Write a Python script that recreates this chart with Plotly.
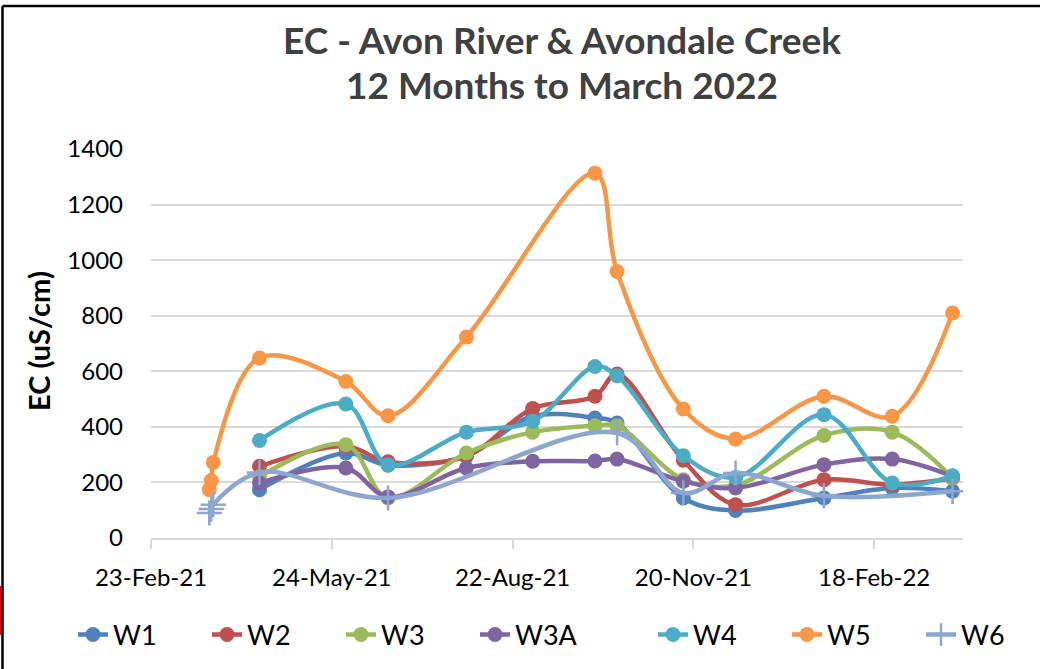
import plotly.graph_objects as go

# ---- data ----
W1_dates = ["2021-04-18", "2021-05-31", "2021-06-21", "2021-07-30", "2021-09-01", "2021-10-02",
            "2021-10-13", "2021-11-15", "2021-12-11", "2022-01-24", "2022-02-27", "2022-03-29"]
W1 = [174, 306, 262, 295, 438, 432, 414, 144, 99, 144, 180, 168]
W2 = [258, 330, 274, 295, 466, 510, 590, 280, 120, 210, 192, 215]
W3 = [220, 336, 144, 306, 381, 404, 404, 210, 190, 369, 381, 216]
W3A = [198, 252, 148, 252, 276, 277, 284, 204, 180, 264, 284, 222]
W4 = [351, 482, 264, 381, 420, 617, 584, 296, 218, 444, 198, 224]

W5_dates = ["2021-03-24", "2021-03-25", "2021-03-26", "2021-04-18", "2021-05-31", "2021-06-21",
            "2021-07-30", "2021-10-02", "2021-10-13", "2021-11-15", "2021-12-11", "2022-01-24",
            "2022-02-27", "2022-03-29"]
W5 = [174, 207, 272, 648, 563, 440, 723, 1313, 959, 464, 356, 510, 438, 810]

W6_dates = ["2021-03-24", "2021-03-25", "2021-03-26", "2021-04-18", "2021-06-21", "2021-10-13",
            "2021-11-15", "2021-12-11", "2022-01-24", "2022-03-29"]
W6 = [90, 104, 120, 236, 144, 378, 162, 234, 152, 168]

x_tickvals = ["2021-02-23", "2021-05-24", "2021-08-22", "2021-11-20", "2022-02-18"]
x_ticktext = ["23-Feb-21", "24-May-21", "22-Aug-21", "20-Nov-21", "18-Feb-22"]

# ---- layout geometry (pixels) ----
W, H = 1040, 669
L, R, T, B = 151, 77, 149, 131
PW, PH = W - L - R, H - T - B


def px(x):
    return (x - L) / PW


def py(y):
    return (H - B - y) / PH


series = [
    ("W1", W1_dates, W1, "#4F81BD", "legend"),
    ("W2", W1_dates, W2, "#C0504D", "legend"),
    ("W3", W1_dates, W3, "#9BBB59", "legend"),
    ("W3A", W1_dates, W3A, "#8064A2", "legend"),
    ("W4", W1_dates, W4, "#4BACC6", "legend2"),
    ("W5", W5_dates, W5, "#F79646", "legend2"),
]

fig = go.Figure()
for name, xs, ys, col, leg in series:
    fig.add_trace(go.Scatter(
        x=xs, y=ys, name=name, mode="lines+markers", legend=leg,
        line=dict(color=col, width=4.5, shape="spline", smoothing=1),
        marker=dict(color=col, size=15, symbol="circle"),
    ))
fig.add_trace(go.Scatter(
    x=W6_dates, y=W6, name="W6", mode="lines+markers", legend="legend2",
    line=dict(color="#8DA6CF", width=4.5, shape="spline", smoothing=1),
    marker=dict(symbol="cross-thin", size=18, line=dict(color="#8DA6CF", width=2.5)),
))

font_family = "Lato, 'Open Sans', sans-serif"

legend_common = dict(orientation="h", xref="container", yref="container",
                     y=1 - 635 / H, xanchor="left", yanchor="middle",
                     font=dict(size=27, color="#000000"), itemwidth=30, traceorder="normal",
                     entrywidth=89, bgcolor="rgba(0,0,0,0)")

fig.update_layout(
    width=W, height=H,
    margin=dict(l=L, r=R, t=T, b=B, pad=0, autoexpand=False),
    paper_bgcolor="white", plot_bgcolor="white",
    font=dict(family=font_family, color="#000000", size=24),
    showlegend=True,
    legend=dict(legend_common, x=73 / W),
    legend2=dict(legend_common, x=653 / W),
    xaxis=dict(
        type="date", range=["2021-02-23", "2022-04-03 05:00"],
        tickvals=x_tickvals, ticktext=x_ticktext,
        showgrid=False, showline=True, linecolor="#D9D9D9", linewidth=2,
        ticks="outside", ticklen=9, tickwidth=2, tickcolor="#D9D9D9",
        tickfont=dict(size=24, color="#000000"), ticklabelstandoff=8,
        zeroline=False,
    ),
    yaxis=dict(
        range=[0, 1400], dtick=200, tick0=0,
        showgrid=True, gridcolor="#D9D9D9", gridwidth=2,
        showline=False, zeroline=False, ticks="",
        tickfont=dict(size=24, color="#000000"), ticklabelstandoff=27,
    ),
    annotations=[
        dict(text="<b>EC - Avon River & Avondale Creek</b>", x=px(562), y=py(39), xref="paper", yref="paper",
             showarrow=False, xanchor="center", yanchor="middle",
             font=dict(size=37, color="#404040", family=font_family)),
        dict(text="<b>12 Months to March 2022</b>", x=px(562), y=py(85), xref="paper", yref="paper",
             showarrow=False, xanchor="center", yanchor="middle",
             font=dict(size=37, color="#404040", family=font_family)),
        dict(text="<b>EC (uS/cm)</b>", x=px(38), y=py(341), xref="paper", yref="paper",
             showarrow=False, xanchor="center", yanchor="middle", textangle=-90,
             font=dict(size=29, color="#000000", family=font_family)),
    ],
    shapes=[
        dict(type="line", xref="paper", yref="paper", x0=px(2.5), x1=px(W + 5), y0=py(6), y1=py(6),
             line=dict(color="#000000", width=2.5)),
        dict(type="line", xref="paper", yref="paper", x0=px(2.5), x1=px(2.5), y0=py(6), y1=py(H + 5),
             line=dict(color="#000000", width=2.5)),
        dict(type="rect", xref="paper", yref="paper", x0=px(0), x1=px(2), y0=py(586), y1=py(635),
             fillcolor="#E00000", line=dict(width=0)),
    ],
)

fig.write_html("out.html", config={"displayModeBar": False},
               post_script="document.body.style.margin='0';document.body.style.overflow='hidden';")
